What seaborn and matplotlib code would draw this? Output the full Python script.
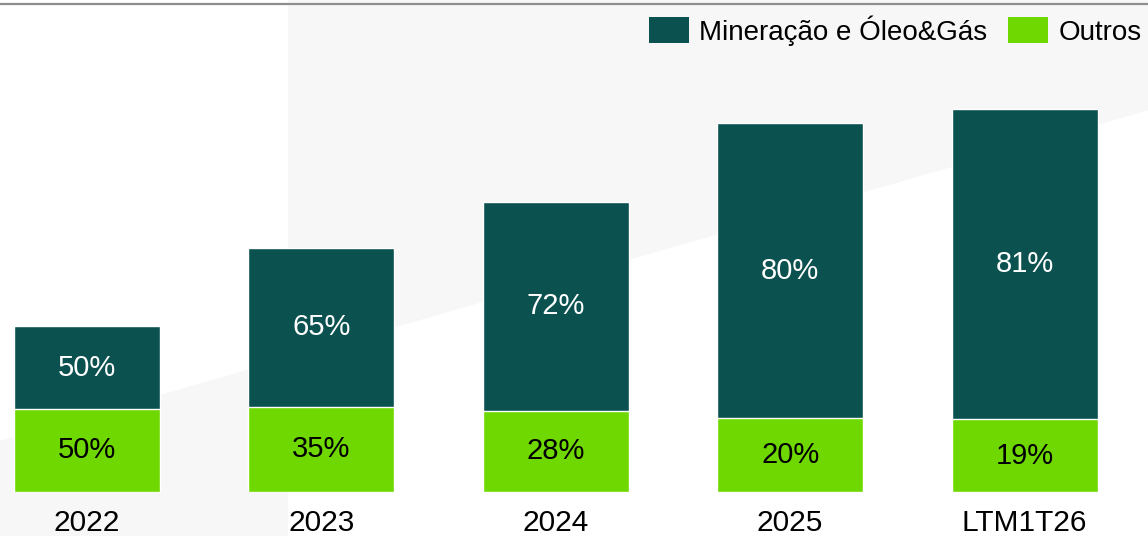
import matplotlib
matplotlib.use("Agg")
import matplotlib.pyplot as plt
from matplotlib.patches import Polygon, Patch
from matplotlib.lines import Line2D
import seaborn as sns
import pandas as pd

# Revenue mix by segment (index, 2022 = 100) and share of each segment
periods = ["2022", "2023", "2024", "2025", "LTM1T26"]
total_index = [100, 147, 175, 222, 231]
share_mining = [50, 65, 72, 80, 81]
share_outros = [50, 35, 28, 20, 19]

label_mining = "Mineração e Óleo&Gás"
label_outros = "Outros"

dark = "#0B5150"
green = "#6FD800"

sns.set_theme(style="white")
plt.rcParams["font.family"] = ["Liberation Sans", "DejaVu Sans"]

df = pd.DataFrame({
    "period": periods,
    "total": total_index,
    "outros": [t * s / 100 for t, s in zip(total_index, share_outros)],
    "mining": [t * s / 100 for t, s in zip(total_index, share_mining)],
})

W, H = 1148, 536
fig = plt.figure(figsize=(W / 100, H / 100), dpi=100)
fig.patch.set_facecolor("white")

# light diagonal backdrop
def fx(x):
    return x / W

def fy(y):
    return 1 - y / H

def diag(x):
    return 441 - 0.288 * x

split = 288
bg = "#F7F7F7"
left_poly = [(fx(0), fy(diag(0))), (fx(split), fy(diag(split))),
             (fx(split), fy(H)), (fx(0), fy(H))]
right_poly = [(fx(split), fy(0)), (fx(W), fy(0)),
              (fx(W), fy(diag(W))), (fx(split), fy(diag(split)))]
for pts in (left_poly, right_poly):
    fig.add_artist(Polygon(pts, closed=True, transform=fig.transFigure,
                           facecolor=bg, edgecolor="none", zorder=-5))

# thin rule along the top edge
fig.add_artist(Line2D([0, 1], [fy(4), fy(4)], transform=fig.transFigure,
                      color="#8E8E8E", lw=1.6, zorder=5))

base_px = 492
ax = fig.add_axes([0, (H - base_px) / H, 1, base_px / H])
ax.set_facecolor("none")

bar_w = 0.623
sns.barplot(data=df, x="period", y="total", color=dark, width=bar_w,
            saturation=1, ax=ax, zorder=2)
sns.barplot(data=df, x="period", y="outros", color=green, width=bar_w,
            saturation=1, ax=ax, zorder=3)

px_per_unit = 166 / 100
ax.set_ylim(0, base_px / px_per_unit)
ax.set_xlim(-87 / 234.4, 4 + (W - 1024.5) / 234.4)

fs = 21
for i in range(len(periods)):
    o = df["outros"][i]
    m = df["mining"][i]
    ax.text(i, o / 2, f"{share_outros[i]}%", ha="center", va="center",
            fontsize=fs, color="black", zorder=5)
    ax.text(i, o + m / 2, f"{share_mining[i]}%", ha="center", va="center",
            fontsize=fs, color="white", zorder=5)

ax.set_xlabel("")
ax.set_ylabel("")
ax.set_yticks([])
ax.tick_params(axis="x", length=0, pad=12.5, labelsize=21.5, labelcolor="black")
for s in ax.spines.values():
    s.set_visible(False)

handles = [Patch(facecolor=dark, edgecolor="none", label=label_mining),
           Patch(facecolor=green, edgecolor="none", label=label_outros)]
fig.legend(handles=handles, loc="upper right",
           bbox_to_anchor=(1 - 6 / W, 1 - 15 / H),
           ncol=2, frameon=False, fontsize=20, handlelength=1.44,
           handleheight=1.08, handletextpad=0.38, columnspacing=0.75,
           borderaxespad=0, borderpad=0, labelcolor="black")

fig.savefig("out.png", dpi=100)
